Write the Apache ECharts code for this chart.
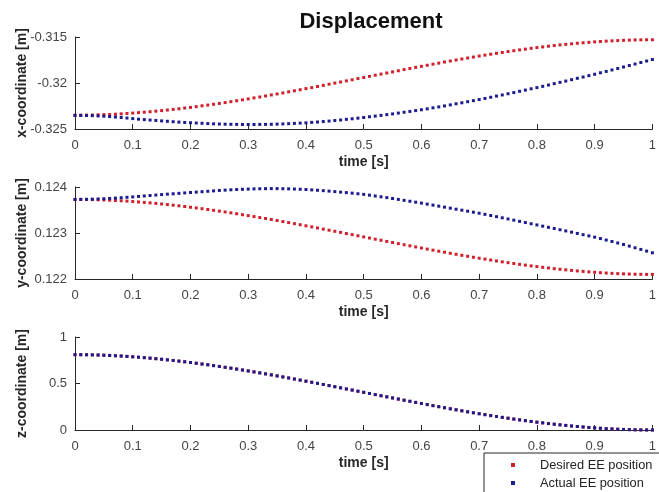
<!DOCTYPE html>
<html>
<head>
<meta charset="utf-8">
<script src="https://cdn.jsdelivr.net/npm/echarts@6/dist/echarts.min.js"></script>
<style>
  html, body { margin: 0; padding: 0; background: #ffffff; }
  #chart { width: 659px; height: 492px; }
</style>
</head>
<body>
<div id="chart"></div>
<script>
// Sample times [s]
const time = [
  0.00,0.01,0.02,0.03,0.04,0.05,0.06,0.07,0.08,0.09,
  0.10,0.11,0.12,0.13,0.14,0.15,0.16,0.17,0.18,0.19,
  0.20,0.21,0.22,0.23,0.24,0.25,0.26,0.27,0.28,0.29,
  0.30,0.31,0.32,0.33,0.34,0.35,0.36,0.37,0.38,0.39,
  0.40,0.41,0.42,0.43,0.44,0.45,0.46,0.47,0.48,0.49,
  0.50,0.51,0.52,0.53,0.54,0.55,0.56,0.57,0.58,0.59,
  0.60,0.61,0.62,0.63,0.64,0.65,0.66,0.67,0.68,0.69,
  0.70,0.71,0.72,0.73,0.74,0.75,0.76,0.77,0.78,0.79,
  0.80,0.81,0.82,0.83,0.84,0.85,0.86,0.87,0.88,0.89,
  0.90,0.91,0.92,0.93,0.94,0.95,0.96,0.97,0.98,0.99,
  1.00
];

// x-coordinate of the end effector [m]
const xDesired = [
  -0.32350,-0.32350,-0.32349,-0.32348,-0.32346,-0.32344,-0.32342,-0.32339,-0.32335,-0.32331,
  -0.32327,-0.32322,-0.32317,-0.32312,-0.32306,-0.32300,-0.32294,-0.32287,-0.32280,-0.32272,
  -0.32265,-0.32257,-0.32248,-0.32240,-0.32231,-0.32222,-0.32213,-0.32203,-0.32193,-0.32183,
  -0.32173,-0.32162,-0.32152,-0.32141,-0.32130,-0.32119,-0.32108,-0.32096,-0.32085,-0.32073,
  -0.32061,-0.32050,-0.32038,-0.32026,-0.32013,-0.32001,-0.31989,-0.31977,-0.31965,-0.31952,
  -0.31940,-0.31928,-0.31915,-0.31903,-0.31891,-0.31879,-0.31867,-0.31854,-0.31842,-0.31830,
  -0.31819,-0.31807,-0.31795,-0.31784,-0.31772,-0.31761,-0.31750,-0.31739,-0.31728,-0.31718,
  -0.31707,-0.31697,-0.31687,-0.31677,-0.31668,-0.31658,-0.31649,-0.31640,-0.31632,-0.31623,
  -0.31615,-0.31608,-0.31600,-0.31593,-0.31586,-0.31580,-0.31574,-0.31568,-0.31563,-0.31558,
  -0.31553,-0.31549,-0.31545,-0.31542,-0.31539,-0.31536,-0.31534,-0.31532,-0.31531,-0.31530,
  -0.31530
];
const xActual = [
  -0.32352,-0.32352,-0.32353,-0.32355,-0.32358,-0.32361,-0.32365,-0.32370,-0.32375,-0.32381,
  -0.32387,-0.32393,-0.32398,-0.32403,-0.32407,-0.32412,-0.32416,-0.32421,-0.32425,-0.32429,
  -0.32432,-0.32435,-0.32438,-0.32441,-0.32444,-0.32446,-0.32448,-0.32449,-0.32450,-0.32451,
  -0.32451,-0.32451,-0.32450,-0.32450,-0.32449,-0.32447,-0.32445,-0.32442,-0.32439,-0.32436,
  -0.32433,-0.32428,-0.32424,-0.32419,-0.32414,-0.32408,-0.32402,-0.32395,-0.32389,-0.32382,
  -0.32375,-0.32367,-0.32360,-0.32352,-0.32344,-0.32336,-0.32327,-0.32318,-0.32309,-0.32300,
  -0.32291,-0.32281,-0.32270,-0.32260,-0.32249,-0.32238,-0.32226,-0.32215,-0.32203,-0.32192,
  -0.32180,-0.32168,-0.32155,-0.32142,-0.32130,-0.32117,-0.32104,-0.32090,-0.32077,-0.32063,
  -0.32050,-0.32036,-0.32022,-0.32007,-0.31993,-0.31979,-0.31964,-0.31949,-0.31935,-0.31920,
  -0.31905,-0.31889,-0.31874,-0.31858,-0.31842,-0.31826,-0.31810,-0.31794,-0.31777,-0.31761,
  -0.31745
];

// y-coordinate of the end effector [m]
const yDesired = [
  0.123730,0.123730,0.123728,0.123726,0.123722,0.123718,0.123713,0.123707,0.123700,0.123693,
  0.123684,0.123675,0.123665,0.123655,0.123643,0.123631,0.123618,0.123605,0.123591,0.123576,
  0.123560,0.123545,0.123528,0.123511,0.123493,0.123475,0.123457,0.123438,0.123418,0.123398,
  0.123378,0.123357,0.123336,0.123315,0.123293,0.123271,0.123248,0.123226,0.123203,0.123180,
  0.123156,0.123133,0.123109,0.123085,0.123061,0.123037,0.123013,0.122988,0.122964,0.122939,
  0.122915,0.122891,0.122866,0.122842,0.122817,0.122793,0.122769,0.122745,0.122721,0.122697,
  0.122674,0.122650,0.122627,0.122604,0.122582,0.122559,0.122537,0.122515,0.122494,0.122473,
  0.122452,0.122432,0.122412,0.122392,0.122373,0.122355,0.122337,0.122319,0.122302,0.122285,
  0.122270,0.122254,0.122240,0.122225,0.122212,0.122199,0.122187,0.122175,0.122165,0.122155,
  0.122146,0.122137,0.122130,0.122123,0.122117,0.122112,0.122108,0.122104,0.122102,0.122100,
  0.122100
];
const yActual = [
  0.123730,0.123731,0.123733,0.123736,0.123740,0.123745,0.123752,0.123759,0.123767,0.123776,
  0.123785,0.123795,0.123805,0.123815,0.123825,0.123835,0.123844,0.123853,0.123862,0.123871,
  0.123880,0.123889,0.123898,0.123907,0.123916,0.123925,0.123932,0.123939,0.123945,0.123950,
  0.123955,0.123959,0.123962,0.123964,0.123965,0.123965,0.123963,0.123960,0.123956,0.123951,
  0.123945,0.123937,0.123929,0.123920,0.123910,0.123900,0.123889,0.123878,0.123866,0.123853,
  0.123840,0.123823,0.123805,0.123787,0.123769,0.123750,0.123730,0.123710,0.123690,0.123670,
  0.123650,0.123628,0.123606,0.123584,0.123562,0.123540,0.123518,0.123496,0.123474,0.123452,
  0.123430,0.123405,0.123380,0.123355,0.123330,0.123305,0.123279,0.123253,0.123227,0.123201,
  0.123175,0.123149,0.123123,0.123097,0.123071,0.123045,0.123018,0.122991,0.122964,0.122937,
  0.122910,0.122879,0.122847,0.122815,0.122783,0.122750,0.122715,0.122679,0.122643,0.122607,
  0.122570
];

// z-coordinate of the end effector [m]
const zDesired = [
  0.8100,0.8098,0.8090,0.8079,0.8062,0.8041,0.8016,0.7986,0.7953,0.7915,
  0.7873,0.7828,0.7778,0.7725,0.7668,0.7608,0.7544,0.7477,0.7407,0.7334,
  0.7258,0.7178,0.7096,0.7012,0.6924,0.6834,0.6742,0.6647,0.6551,0.6451,
  0.6350,0.6247,0.6143,0.6036,0.5928,0.5818,0.5707,0.5594,0.5480,0.5365,
  0.5249,0.5132,0.5014,0.4895,0.4776,0.4655,0.4535,0.4414,0.4293,0.4171,
  0.4050,0.3929,0.3807,0.3686,0.3565,0.3445,0.3325,0.3205,0.3086,0.2968,
  0.2851,0.2735,0.2620,0.2506,0.2393,0.2282,0.2172,0.2064,0.1957,0.1853,
  0.1750,0.1649,0.1550,0.1453,0.1358,0.1266,0.1176,0.1088,0.1004,0.0922,
  0.0842,0.0766,0.0693,0.0623,0.0556,0.0492,0.0432,0.0375,0.0322,0.0273,
  0.0227,0.0185,0.0147,0.0114,0.0084,0.0059,0.0038,0.0021,0.0010,0.0002,
  0.0000
];
const zActual = [
  0.8100,0.8098,0.8090,0.8079,0.8062,0.8041,0.8016,0.7986,0.7953,0.7915,
  0.7873,0.7828,0.7778,0.7725,0.7668,0.7608,0.7544,0.7477,0.7407,0.7334,
  0.7258,0.7178,0.7096,0.7012,0.6924,0.6834,0.6742,0.6647,0.6551,0.6451,
  0.6350,0.6247,0.6143,0.6036,0.5928,0.5818,0.5707,0.5594,0.5480,0.5365,
  0.5249,0.5132,0.5014,0.4895,0.4776,0.4655,0.4535,0.4414,0.4293,0.4171,
  0.4050,0.3929,0.3807,0.3686,0.3565,0.3445,0.3325,0.3205,0.3086,0.2968,
  0.2851,0.2735,0.2620,0.2506,0.2393,0.2282,0.2172,0.2064,0.1957,0.1853,
  0.1750,0.1649,0.1550,0.1453,0.1358,0.1266,0.1176,0.1088,0.1004,0.0922,
  0.0842,0.0766,0.0693,0.0623,0.0556,0.0492,0.0432,0.0375,0.0322,0.0273,
  0.0227,0.0185,0.0147,0.0114,0.0084,0.0059,0.0038,0.0021,0.0010,0.0002,
  0.0000
];

// Axis ranges and labels
const panels = [
  { name: 'x-coordinate [m]', min: -0.325, max: -0.315, step: 0.005, desired: xDesired, actual: xActual },
  { name: 'y-coordinate [m]', min: 0.122, max: 0.124, step: 0.001, desired: yDesired, actual: yActual },
  { name: 'z-coordinate [m]', min: 0, max: 1, step: 0.5, desired: zDesired, actual: zActual }
];
const timeLabel = 'time [s]';
const seriesNames = ['Desired EE position', 'Actual EE position'];

const FONT = '"Liberation Sans", Arial, Helvetica, sans-serif';
const AXIS_COLOR = '#262626';
const LABEL_COLOR = '#444444';
const RED = '#d0202c';
const BLUE = '#1c1c90';

const gridBoxes = [
  { left: 75, right: 1, top: 37, height: 92 },
  { left: 75, right: 1, top: 187, height: 92 },
  { left: 75, right: 1, top: 337, height: 93 }
];

const trim = v => String(+v.toFixed(4));

const xAxes = gridBoxes.map((g, i) => ({
  type: 'value', gridIndex: i, min: 0, max: 1, interval: 0.1,
  axisLine: { show: true, lineStyle: { color: AXIS_COLOR, width: 1 } },
  axisTick: { show: true, inside: true, length: 5, lineStyle: { color: AXIS_COLOR } },
  splitLine: { show: false },
  axisLabel: { margin: 10, fontSize: 13, color: LABEL_COLOR, fontFamily: FONT, formatter: trim },
  name: timeLabel, nameLocation: 'middle', nameGap: 26, nameMoveOverlap: false,
  nameTextStyle: { fontSize: 14, fontWeight: 'bold', color: AXIS_COLOR, fontFamily: FONT }
}));

const yAxes = panels.map((p, i) => ({
  type: 'value', gridIndex: i, min: p.min, max: p.max, interval: p.step,
  axisLine: { show: true, lineStyle: { color: AXIS_COLOR, width: 1 } },
  axisTick: { show: true, inside: true, length: 5, lineStyle: { color: AXIS_COLOR } },
  splitLine: { show: false },
  axisLabel: { margin: 8, fontSize: 13, color: LABEL_COLOR, fontFamily: FONT, formatter: trim },
  name: p.name, nameLocation: 'middle', nameRotate: 90, nameGap: 46, nameMoveOverlap: false,
  nameTextStyle: { fontSize: 14, fontWeight: 'bold', color: AXIS_COLOR, fontFamily: FONT }
}));

const pairs = arr => time.map((t, k) => [t, arr[k]]);

const series = [];
panels.forEach((p, i) => {
  series.push({
    name: seriesNames[0], type: 'scatter', xAxisIndex: i, yAxisIndex: i,
    symbol: 'rect', symbolSize: 3, itemStyle: { color: RED, opacity: 1 },
    data: pairs(p.desired), z: 2
  });
  series.push({
    name: seriesNames[1], type: 'scatter', xAxisIndex: i, yAxisIndex: i,
    symbol: 'rect', symbolSize: 3, itemStyle: { color: BLUE, opacity: 1 },
    data: pairs(p.actual), z: 3
  });
});

const chart = echarts.init(document.getElementById('chart'), null, { renderer: 'canvas' });
chart.setOption({
  backgroundColor: '#ffffff',
  animation: false,
  title: {
    text: 'Displacement', left: 366, top: 6, textAlign: 'center',
    textStyle: { fontSize: 22, fontWeight: 'bold', color: '#111111', fontFamily: FONT }
  },
  legend: {
    data: seriesNames, orient: 'vertical', left: 484, top: 453, width: 200, height: 60,
    icon: 'rect', itemWidth: 4, itemHeight: 4, itemGap: 4,
    padding: [5, 14, 8, 27],
    backgroundColor: '#ffffff', borderColor: AXIS_COLOR, borderWidth: 1, borderRadius: 0,
    selectedMode: false,
    textStyle: { fontSize: 12.8, color: '#222222', fontFamily: FONT, lineHeight: 14, padding: [0, 0, 0, 20] }
  },
  grid: gridBoxes,
  xAxis: xAxes,
  yAxis: yAxes,
  series: series
});
</script>
</body>
</html>
